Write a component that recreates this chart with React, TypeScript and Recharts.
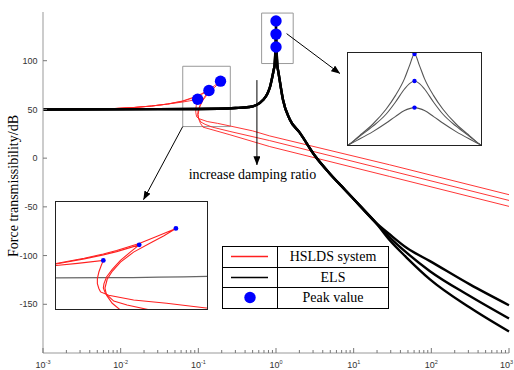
import React from 'react';
import { ComposedChart, Line, XAxis, YAxis, ReferenceArea, ReferenceLine, Legend } from 'recharts';

// ELS curves (three damping ratios) on one shared frequency grid
const elsFreq = [0.001, 0.1, 0.3, 0.45, 0.56, 0.68, 0.78, 0.84, 0.9, 0.94,
  0.96, 0.967, 0.975, 0.983, 0.9885, 0.994, 0.997, 1.0,
  1.003, 1.006, 1.0115, 1.017, 1.025, 1.033, 1.04,
  1.07, 1.12, 1.23, 1.5, 2.03, 3.17, 4.94, 7.71, 12, 18.7,
  29.3, 48, 96, 313, 1000];
const els1 = [50, 50.5, 51.5, 52.5, 54.5, 59.6, 66.5, 73.5, 84, 91.5,
  95.3, 100, 105.8, 113.3, 120, 128.5, 135, 140.8,
  135, 128.5, 120, 113.3, 105.8, 100, 95.3,
  89, 79, 60, 40, 25.9, 2.4, -16, -32.4, -48.8, -65.1,
  -84.6, -102, -124.4, -153.4, -178];
const els2 = [50, 50.5, 51.5, 52.5, 54.5, 59.6, 66.5, 73.5, 84, 91.5,
  95.3, 99.7, 104.7, 110.8, 116.7, 123.3, 126, 127.3,
  126, 123.3, 116.7, 110.8, 104.7, 99.7, 95.3,
  89, 79, 60, 40, 25.9, 2.4, -16, -32.4, -48.8, -65.1,
  -81.5, -97, -116, -141.5, -164.6];
const els3 = [50, 50.5, 51.5, 52.5, 54.5, 59.6, 66.5, 73.5, 84, 91.5,
  95.3, 98.3, 102, 106.3, 109.5, 112.5, 113.5, 114,
  113.5, 112.5, 109.5, 106.3, 102, 98.3, 95.3,
  89, 79, 60, 40, 25.9, 2.4, -16, -32.4, -48.8, -65.1,
  -78.4, -92, -105.7, -129.6, -151];

// HSLDS curves fold back at the jump, so each keeps its own frequency list
const hsAFreq = [0.001, 0.003, 0.007, 0.015, 0.025, 0.04, 0.063, 0.077, 0.098,
  0.0961, 0.094, 0.0927, 0.0927, 0.094,
  0.0955, 0.103, 0.13, 0.177, 0.256, 0.5, 0.83, 29, 1000];
const hsADb = [50, 50.1, 50.6, 52, 53.5, 55.5, 57.6, 58.8, 60.5,
  57.6, 53.8, 50, 47.1, 44.3,
  42.3, 40.4, 37.6, 35.7, 33, 28, 22.8, -6.8, -37.5];

const hsBFreq = [0.001, 0.003, 0.007, 0.015, 0.025, 0.04, 0.063, 0.082, 0.098, 0.111, 0.137,
  0.126, 0.115, 0.1065, 0.101, 0.0986, 0.098,
  0.1, 0.108, 0.1223, 0.152, 0.255, 0.83, 29, 1000];
const hsBDb = [50, 50.1, 50.6, 52, 53.5, 55.5, 58.4, 61.4, 63.7, 65.6, 69.5,
  65.3, 60.5, 55.3, 50.9, 47.1, 44.6,
  41.4, 37, 34.7, 31.8, 27.4, 18, -12.7, -43.4];

const hsCFreq = [0.001, 0.003, 0.007, 0.015, 0.025, 0.04, 0.063, 0.082, 0.098, 0.111, 0.137, 0.161, 0.193,
  0.172, 0.152, 0.13, 0.115, 0.1065, 0.1016, 0.0995,
  0.101, 0.1065, 0.115, 0.255, 0.83, 29, 1000];
const hsCDb = [50, 50.1, 50.6, 52, 53.5, 55.5, 58.7, 61.8, 64.2, 66.2, 70.3, 74.3, 79,
  74.6, 70.6, 65.3, 59.5, 54.2, 49.6, 44.5,
  40.4, 35.7, 31.8, 24, 11.9, -18.8, -49.5];

// peak markers
const hsPeakFreq = [0.098, 0.137, 0.193];
const hsPeakDb = [60.5, 69.5, 79];
const elsPeakFreq = [1, 1, 1];
const elsPeakDb = [140.8, 127.3, 114];

const xDecades = [0.001, 0.01, 0.1, 1, 10, 100, 1000];
const xMinor = [2, 3, 4, 5, 6, 7, 8, 9];
const yTicks = [-150, -100, -50, 0, 50, 100];

const legendRows = [
  { label: 'HSLDS system', kind: 'line', color: '#ff2020' },
  { label: 'ELS', kind: 'line', color: '#000' },
  { label: 'Peak value', kind: 'dot', color: '#0000ff' },
];

const elsData = elsFreq.map((f, i) => ({ f, e1: els1[i], e2: els2[i], e3: els3[i] }));
const pts = (fs: number[], vs: number[]) => fs.map((f, i) => ({ f, v: vs[i] }));
const hsA = pts(hsAFreq, hsADb);
const hsB = pts(hsBFreq, hsBDb);
const hsC = pts(hsCFreq, hsCDb);
const hsPeaks = pts(hsPeakFreq, hsPeakDb);
const elsPeaks = pts(elsPeakFreq, elsPeakDb);
const xTicks = xDecades.flatMap(d => (d === 1000 ? [d] : [d, ...xMinor.map(m => m * d)]));

const SANS = '"Liberation Sans", Arial, sans-serif';
const SERIF = '"Liberation Serif", "Times New Roman", serif';
const RED = '#ff2020';
const BLUE = '#0000ff';

const isDecade = (v: number) => Math.abs(Math.log10(v) - Math.round(Math.log10(v))) < 1e-6;

const BottomTick = (props: any) => {
  const { x, y, payload } = props;
  const major = isDecade(payload.value);
  const last = payload.value >= 1000;
  return (
    <g>
      <line x1={x} x2={x} y1={y} y2={y - (major ? 5 : 3)} stroke="#777" />
      {major && (
        <text x={last ? 513 : x} y={y + 14.5} textAnchor={last ? 'end' : 'middle'} fontSize={9} fill="#333" fontFamily={SANS}>
          <tspan>10</tspan>
          <tspan dy={-3.5} fontSize={5.5}>{Math.round(Math.log10(payload.value))}</tspan>
        </text>
      )}
    </g>
  );
};

const TopTick = (props: any) => {
  const { x, y, payload } = props;
  const major = isDecade(payload.value);
  return <line x1={x} x2={x} y1={y} y2={y + (major ? 5 : 3)} stroke="#777" />;
};

const LeftTick = (props: any) => {
  const { x, y, payload } = props;
  return (
    <g>
      <line x1={x} x2={x + 4} y1={y} y2={y} stroke="#777" />
      <text x={x - 5.5} y={y + 3.2} textAnchor="end" fontSize={9} fill="#333" fontFamily={SANS}>
        {payload.value}
      </text>
    </g>
  );
};

const RightTick = (props: any) => {
  const { x, y } = props;
  return <line x1={x} x2={x - 4} y1={y} y2={y} stroke="#777" />;
};

const ArrowShape = (p: any) => (
  <line x1={p.x1} y1={p.y1} x2={p.x2} y2={p.y2} stroke="#000" strokeWidth={1} markerEnd="url(#arrowHead)" />
);

const LegendTable = () => (
  <table
    style={{
      borderCollapse: 'collapse', width: 167, height: 62, tableLayout: 'fixed',
      background: '#fff', fontFamily: SERIF, fontSize: 14, color: '#000',
    }}
  >
    <tbody>
      {legendRows.map(r => (
        <tr key={r.label} style={{ height: 20.5 }}>
          <td style={{ width: 54, border: '1px solid #000', padding: 0 }}>
            <svg width={54} height={19} style={{ display: 'block' }}>
              {r.kind === 'dot'
                ? <circle cx={27} cy={9.5} r={5.7} fill={r.color} />
                : <line x1={8} x2={45} y1={9.5} y2={9.5} stroke={r.color} strokeWidth={1.4} />}
            </svg>
          </td>
          <td style={{ border: '1px solid #000', padding: 0, textAlign: 'center', lineHeight: '19px' }}>
            {r.label}
          </td>
        </tr>
      ))}
    </tbody>
  </table>
);

export default function App() {
  return (
    <div style={{ position: 'absolute', left: 0, top: 0, width: 514, height: 370, background: '#fff' }}>
      <ComposedChart width={514} height={370} data={elsData} margin={{ top: 12, right: 5, bottom: 0, left: 0 }}>
        <defs>
          <marker id="arrowHead" markerWidth={9} markerHeight={7} refX={8.5} refY={3.5} orient="auto" markerUnits="userSpaceOnUse">
            <path d="M0,0 L9,3.5 L0,7 Z" fill="#000" />
          </marker>
        </defs>
        <XAxis dataKey="f" type="number" scale="log" domain={[0.001, 1000]} ticks={xTicks} interval={0}
          height={17} tickSize={0} tickMargin={0} tickLine={false} axisLine={{ stroke: '#999' }} tick={<BottomTick />} />
        <XAxis xAxisId="top" orientation="top" dataKey="f" type="number" scale="log" domain={[0.001, 1000]} ticks={xTicks}
          interval={0} height={0} tickSize={0} tickMargin={0} tickLine={false} axisLine={{ stroke: '#999' }} tick={<TopTick />} />
        <YAxis type="number" domain={[-200, 150]} ticks={yTicks} interval={0} width={43}
          tickSize={0} tickMargin={0} tickLine={false} axisLine={{ stroke: '#999' }} tick={<LeftTick />} />
        <YAxis yAxisId="right" orientation="right" type="number" domain={[-200, 150]} ticks={yTicks} interval={0} width={0}
          tickSize={0} tickMargin={0} tickLine={false} axisLine={{ stroke: '#999' }} tick={<RightTick />} />

        <ReferenceArea x1={0.063} x2={0.258} y1={32.4} y2={94.3} fill="none" stroke="#999" strokeWidth={1} />
        <ReferenceArea x1={0.653} x2={1.665} y1={97.1} y2={148.9} fill="none" stroke="#999" strokeWidth={1} />

        <Line data={hsA} dataKey="v" type="linear" stroke={RED} strokeWidth={0.9} dot={false} isAnimationActive={false} />
        <Line data={hsB} dataKey="v" type="linear" stroke={RED} strokeWidth={0.9} dot={false} isAnimationActive={false} />
        <Line data={hsC} dataKey="v" type="linear" stroke={RED} strokeWidth={0.9} dot={false} isAnimationActive={false} />

        <Line dataKey="e1" type="monotoneX" stroke="#000" strokeWidth={2.4} dot={false} isAnimationActive={false} />
        <Line dataKey="e2" type="monotoneX" stroke="#000" strokeWidth={2.4} dot={false} isAnimationActive={false} />
        <Line dataKey="e3" type="monotoneX" stroke="#000" strokeWidth={2.4} dot={false} isAnimationActive={false} />

        <Line data={hsPeaks} dataKey="v" stroke="none" dot={{ r: 5.7, fill: BLUE, stroke: 'none' }} isAnimationActive={false} />
        <Line data={elsPeaks} dataKey="v" stroke="none" dot={{ r: 5.7, fill: BLUE, stroke: 'none' }} isAnimationActive={false} />

        <ReferenceLine segment={[{ x: 0.063, y: 32.4 }, { x: 0.0197, y: -42.6 }]} shape={ArrowShape} />
        <ReferenceLine segment={[{ x: 1.369, y: 127.8 }, { x: 6.64, y: 86.9 }]} shape={ArrowShape} />
        <ReferenceLine segment={[{ x: 0.568, y: 80.1 }, { x: 0.568, y: -6.9 }]} shape={ArrowShape} />

        <text x={252.5} y={178.5} textAnchor="middle" fontFamily={SERIF} fontSize={14} fill="#000">
          increase damping ratio
        </text>
        <text x={17.5} y={186} transform="rotate(-90 17.5 186)" textAnchor="middle" fontFamily={SERIF} fontSize={14} fill="#000">
          Force transmissibility/dB
        </text>

        <Legend layout="vertical" align="center" verticalAlign="middle"
          wrapperStyle={{ left: 222, top: 246, width: 167, height: 62 }} content={() => <LegendTable />} />
      </ComposedChart>

      {/* zoom of the HSLDS jump region */}
      <div style={{ position: 'absolute', left: 55, top: 201, width: 153, height: 109, boxSizing: 'border-box', border: '1px solid #222', background: '#fff' }}>
        <ComposedChart width={151} height={107} data={elsData} margin={{ top: 0, right: 0, bottom: 0, left: 0 }}>
          <XAxis dataKey="f" type="number" scale="log" domain={[0.063, 0.258]} allowDataOverflow hide />
          <YAxis type="number" domain={[32.4, 94.3]} allowDataOverflow hide />
          <Line dataKey="e1" type="monotoneX" stroke="#666" strokeWidth={1.2} dot={false} isAnimationActive={false} />
          <Line data={hsA} dataKey="v" type="linear" stroke={RED} strokeWidth={1.1} dot={false} isAnimationActive={false} />
          <Line data={hsB} dataKey="v" type="linear" stroke={RED} strokeWidth={1.1} dot={false} isAnimationActive={false} />
          <Line data={hsC} dataKey="v" type="linear" stroke={RED} strokeWidth={1.1} dot={false} isAnimationActive={false} />
          <Line data={hsPeaks} dataKey="v" stroke="none" dot={{ r: 2.4, fill: BLUE, stroke: 'none' }} isAnimationActive={false} />
        </ComposedChart>
      </div>

      {/* zoom of the ELS resonance peaks */}
      <div style={{ position: 'absolute', left: 347, top: 52, width: 135, height: 94, boxSizing: 'border-box', border: '1px solid #222', background: '#fff' }}>
        <ComposedChart width={133} height={92} data={elsData} margin={{ top: 0, right: 0, bottom: 0, left: 0 }}>
          <XAxis dataKey="f" type="number" domain={[0.96, 1.04]} allowDataOverflow hide />
          <YAxis type="number" domain={[95.3, 141.3]} allowDataOverflow hide />
          <Line dataKey="e1" type="monotoneX" stroke="#555" strokeWidth={1.1} dot={false} isAnimationActive={false} />
          <Line dataKey="e2" type="monotoneX" stroke="#555" strokeWidth={1.1} dot={false} isAnimationActive={false} />
          <Line dataKey="e3" type="monotoneX" stroke="#555" strokeWidth={1.1} dot={false} isAnimationActive={false} />
          <Line data={elsPeaks} dataKey="v" stroke="none" dot={{ r: 2.2, fill: BLUE, stroke: 'none' }} isAnimationActive={false} />
        </ComposedChart>
      </div>
    </div>
  );
}
